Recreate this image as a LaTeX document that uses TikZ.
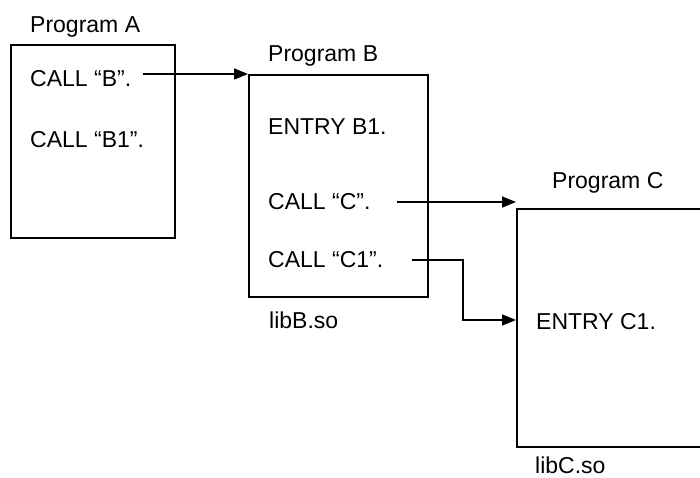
\documentclass[tikz,border=0pt]{standalone}
\usepackage{fontspec}
\setmainfont{Liberation Sans}
\usetikzlibrary{arrows.meta}
\tikzset{
  % --- program boxes ---------------------------------------------------------
  prog/.style={draw,line width=1.5pt,inner sep=0pt,anchor=north west},
  % --- texts -----------------------------------------------------------------
  txt/.style={anchor=base west,inner sep=0pt,font=\fontsize{23}{27}\selectfont},
  % --- calls -----------------------------------------------------------------
  call/.style={-{Triangle[length=14pt,width=11pt]},line width=1.5pt},
}
\begin{document}
\begin{tikzpicture}[x=1pt,y=-1pt]
  \useasboundingbox (0,0) rectangle (700,477);
  \node[prog,minimum width=164pt,minimum height=193pt] (pa) at (10,44) {};
  \node[prog,minimum width=179pt,minimum height=222pt] (pb) at (248,74) {};
  \node[prog,minimum width=210pt,minimum height=238pt] (pc) at (516,208) {};
  \node[txt] (na) at (30,32) {Program A};
  \node[txt] (cb) at (30,86) {CALL “B”.};
  \node[txt] (cb1) at (30,147) {CALL “B1”.};
  \node[txt] (nb) at (268,61) {Program B};
  \node[txt] (eb1) at (268,134) {ENTRY B1.};
  \node[txt] (cc) at (268,209) {CALL “C”.};
  \node[txt] (cc1) at (268,267) {CALL “C1”.};
  \node[txt] (lb) at (269,328) {libB.so};
  \node[txt] (nc) at (552,188) {Program C};
  \node[txt] (ec1) at (536,329) {ENTRY C1.};
  \node[txt] (lc) at (535,473) {libC.so};
  \coordinate (ob) at (143,74);
  \coordinate (oc) at (397,202);
  \coordinate (oc1) at (412,260);
  \coordinate (ic1) at (516,320);
  \draw[call] (ob) -- (pb.north west);
  \draw[call] (oc) -- ([yshift=6pt]pc.north west);
  \draw[call] (oc1) -- ++(51,0) |- (ic1);
\end{tikzpicture}
\end{document}
